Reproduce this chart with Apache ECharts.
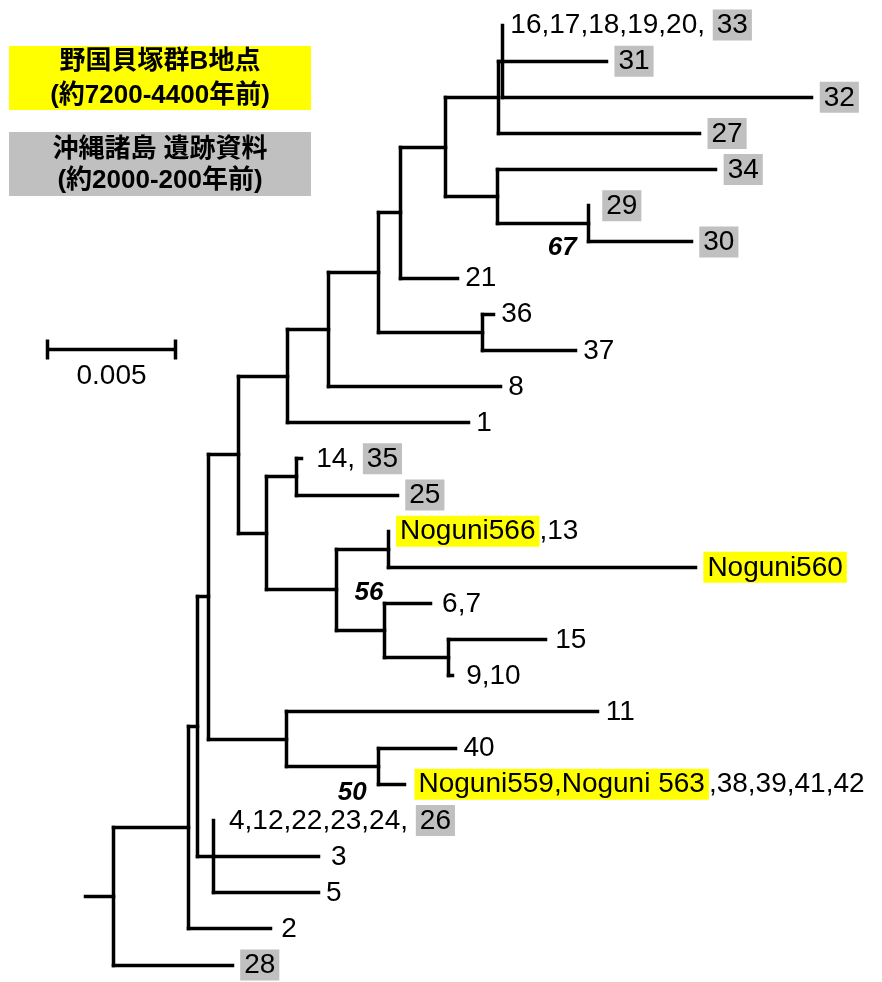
<!DOCTYPE html>
<html>
<head>
<meta charset="utf-8">
<script src="https://cdn.jsdelivr.net/npm/echarts@6/dist/echarts.min.js"></script>
<style>
  html, body { margin: 0; padding: 0; background: #ffffff; }
  #chart { width: 882px; height: 982px; }
</style>
</head>
<body>
<div id="chart"></div>
<script>
// ---------------- tree data ----------------
// Every node of the neighbour-joining tree, its parent and its branch length (substitutions/site).
const nodeIds = ['R', 'A', 't28', 'B', 't2', 'C', 'D', 't4', 't3', 't5',
  'E', 'F', 't11', 'G', 't40', 't559', 'H', 'I', 'J', 't14', 't25',
  'K', 'L', 't566', 't560', 'M', 't67', 'N', 't15', 't910',
  't1', 'O', 't8', 'P', 'S', 't36', 't37', 'Q', 't21', 'T',
  'U', 'V', 'W', 't16', 't31', 't32', 't27', 't34', 'X', 't29', 't30'];
const nodeParents = [null, 'R', 'R', 'A', 'A', 'B', 'B', 'D', 'D', 'D',
  'C', 'C', 'F', 'F', 'G', 'G', 'E', 'E', 'I', 'J', 'J',
  'I', 'K', 'L', 'L', 'K', 'M', 'M', 'N', 'N',
  'H', 'H', 'O', 'O', 'P', 'S', 'S', 'P', 'Q', 'Q',
  'T', 'T', 'U', 'W', 'W', 'W', 'U', 'V', 'V', 'X', 'X'];
const branchLengths = [0, 0.00293, 0.00465, 0.00035, 0.00320, 0.00043, 0.00066, 0, 0.00406, 0.00406,
  0.00117, 0.00305, 0.01215, 0.00359, 0.00301, 0.00102, 0.00191, 0.00109, 0.00117, 0.00020, 0.00395,
  0.00273, 0.00203, 0, 0.01199, 0.00191, 0.00176, 0.00246, 0.00379, 0.00016,
  0.00707, 0.00160, 0.00672, 0.00195, 0.00406, 0.00043, 0.00363, 0.00086, 0.00223, 0.00176,
  0.00207, 0.00203, 0.00016, 0, 0.00406, 0.01207, 0.00785, 0.00852, 0.00355, 0, 0.00402];
const rootStemLength = 0.00109;

// Leaves from top to bottom, with their haplotype labels.
// p = plain, y = Noguni shell-midden site B, g = Okinawa Islands archaeological samples
const leafOrder = ['t16', 't31', 't32', 't27', 't34', 't29', 't30', 't21', 't36', 't37',
  't8', 't1', 't14', 't25', 't566', 't560', 't67', 't15', 't910', 't11',
  't40', 't559', 't4', 't3', 't5', 't2', 't28'];
const leafLabelParts = [
  [['16,17,18,19,20, ', 'p'], ['33', 'g']],
  [['31', 'g']],
  [['32', 'g']],
  [['27', 'g']],
  [['34', 'g']],
  [['29', 'g']],
  [['30', 'g']],
  [['21', 'p']],
  [['36', 'p']],
  [['37', 'p']],
  [['8', 'p']],
  [['1', 'p']],
  [['14, ', 'p'], ['35', 'g']],
  [['25', 'g']],
  [['Noguni566', 'y'], [',13', 'p']],
  [['Noguni560', 'y']],
  [['6,7', 'p']],
  [['15', 'p']],
  [['9,10', 'p']],
  [['11', 'p']],
  [['40', 'p']],
  [['Noguni559,Noguni 563', 'y'], [',38,39,41,42', 'p']],
  [['4,12,22,23,24, ', 'p'], ['26', 'g']],
  [['3', 'p']],
  [['5', 'p']],
  [['2', 'p']],
  [['28', 'g']]
];

// Bootstrap support values (%)
const supportNodes = ['X', 'M', 'G'];
const supportValues = [67, 56, 50];

const scaleBarLength = 0.005;

const legendTitles = [
  ['野国貝塚群B地点', '(約7200-4400年前)'],
  ['沖縄諸島 遺跡資料', '(約2000-200年前)']
];

// ---------------- layout / style ----------------
const LATIN = "'Liberation Sans', Arial, 'Noto Sans CJK JP', sans-serif";
const INK = '#000000';
const YELLOW = '#ffff00';
const GRAY = '#c0c0c0';
const LINE_W = 3.5;
const LABEL_SIZE = 28;
// extra room between some short tips and their labels
const labelGap = { t29: 14, t14: 15, t67: 12, t910: 14, t4: 15, t3: 13, t2: 11, t15: 10, t559: 10 };
const supportOffsets = { X: [-26, 24], M: [-16, -38], G: [-26, 27] };

const snap = v => Math.round(v - 0.5) + 0.5;

// ---------------- tree geometry (data space) ----------------
const idx = {};
nodeIds.forEach((id, i) => { idx[id] = i; });
const children = {};
nodeIds.forEach(id => { children[id] = []; });
nodeIds.forEach((id, i) => { if (nodeParents[i]) children[nodeParents[i]].push(id); });

const depth = {};
(function walk(id, d) {
  depth[id] = d;
  children[id].forEach(c => walk(c, d + branchLengths[idx[c]]));
})('R', 0);

const row = {};
leafOrder.forEach((id, i) => { row[id] = i; });
const span = {};
(function place(id) {
  if (!children[id].length) { span[id] = [row[id], row[id]]; return row[id]; }
  const ys = children[id].map(place);
  const lo = Math.min(...ys), hi = Math.max(...ys);
  span[id] = [lo, hi];
  row[id] = (lo + hi) / 2;
  return row[id];
})('R');

const segments = [];
nodeIds.forEach((id, i) => {
  const p = nodeParents[i];
  if (p && branchLengths[i] > 0) segments.push([depth[p], row[id], depth[id], row[id]]);
  if (children[id].length) segments.push([depth[id], span[id][0], depth[id], span[id][1]]);
});
segments.push([-rootStemLength, row.R, 0, row.R]);

// ---------------- labels ----------------
const base = { fontFamily: LATIN, fontSize: LABEL_SIZE, color: INK, lineHeight: 30 };
const rich = {
  p: Object.assign({}, base, { padding: [3, 0, 2, 0] }),
  y: Object.assign({}, base, { backgroundColor: YELLOW, padding: [2, 4, 1, 4] }),
  g: Object.assign({}, base, { backgroundColor: GRAY, padding: [2, 4, 1, 4] })
};
const leafData = leafOrder.map((id, i) => ({
  value: [depth[id], row[id]],
  label: {
    distance: labelGap[id] || 8,
    formatter: leafLabelParts[i].map(([t, k]) => '{' + k + '|' + t + '}').join('')
  }
}));

const supportData = supportNodes.map((id, i) => ({
  value: [depth[id], row[id]],
  label: { formatter: String(supportValues[i]), offset: supportOffsets[id] }
}));

// ---------------- chart ----------------
const chart = echarts.init(document.getElementById('chart'), null, { renderer: 'canvas' });

const legendGraphics = [];
[[YELLOW, 46, 62, 96], [GRAY, 132, 150, 181]].forEach(([fill, top, l1, l2], i) => {
  legendGraphics.push({ type: 'rect', shape: { x: 9, y: top, width: 302, height: 64 }, style: { fill } });
  [l1, l2].forEach((yy, j) => legendGraphics.push({
    type: 'text', x: 160, y: yy,
    style: { text: legendTitles[i][j], fill: INK, font: "bold 26px " + LATIN, align: 'center', verticalAlign: 'middle' }
  }));
});

chart.setOption({
  animation: false,
  backgroundColor: '#ffffff',
  grid: { left: 113, right: 0, top: 25, bottom: 17, containLabel: false },
  xAxis: { type: 'value', min: 0, max: 0.03, show: false },
  yAxis: { type: 'value', min: 0, max: 26, inverse: true, show: false },
  graphic: legendGraphics,
  series: [
    {
      type: 'custom',
      name: 'branches',
      clip: false,
      silent: true,
      data: segments,
      encode: { x: [0, 2], y: [1, 3] },
      renderItem: (params, api) => {
        const a = api.coord([api.value(0), api.value(1)]);
        const b = api.coord([api.value(2), api.value(3)]);
        return {
          type: 'line',
          shape: { x1: snap(a[0]), y1: snap(a[1]), x2: snap(b[0]), y2: snap(b[1]) },
          style: { stroke: INK, lineWidth: LINE_W, lineCap: 'square' }
        };
      }
    },
    {
      type: 'scatter',
      name: 'haplotypes',
      symbolSize: 0,
      silent: true,
      itemStyle: { opacity: 1 },
      data: leafData,
      label: { show: true, position: 'right', color: INK, opacity: 1, fontFamily: LATIN, fontSize: LABEL_SIZE, rich }
    },
    {
      type: 'scatter',
      name: 'bootstrap',
      symbolSize: 0,
      silent: true,
      itemStyle: { opacity: 1 },
      data: supportData,
      label: {
        show: true, position: 'inside', opacity: 1,
        fontFamily: LATIN, fontSize: 26, fontWeight: 'bold', fontStyle: 'italic', color: INK,
        textBorderWidth: 0
      }
    },
    {
      type: 'custom',
      name: 'scale',
      clip: false,
      silent: true,
      data: [[scaleBarLength, 0]],
      renderItem: (params, api) => {
        const w = Math.round(api.size([api.value(0), 0])[0]);
        const x0 = 47.5, y0 = 349.5;
        const st = { stroke: INK, lineWidth: LINE_W };
        return {
          type: 'group',
          children: [
            { type: 'line', shape: { x1: x0, y1: y0, x2: x0 + w, y2: y0 }, style: st },
            { type: 'line', shape: { x1: x0, y1: y0 - 10, x2: x0, y2: y0 + 10 }, style: st },
            { type: 'line', shape: { x1: x0 + w, y1: y0 - 10, x2: x0 + w, y2: y0 + 10 }, style: st },
            {
              type: 'text', x: x0 + w / 2, y: y0 + 27,
              style: { text: String(api.value(0)), fill: INK, font: LABEL_SIZE + 'px ' + LATIN, align: 'center', verticalAlign: 'middle' }
            }
          ]
        };
      }
    }
  ]
});
</script>
</body>
</html>
